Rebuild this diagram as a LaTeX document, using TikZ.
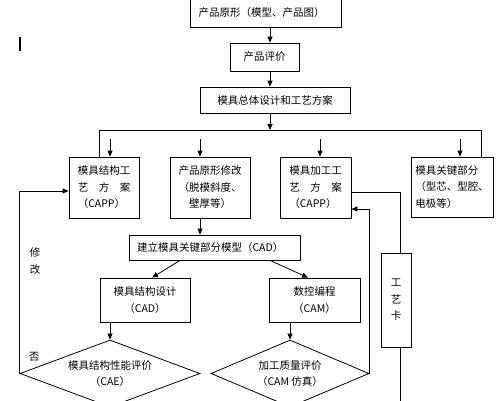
\documentclass[tikz,border=0pt]{standalone}
\usepackage{fontspec}
\newfontfamily\cjk{Noto Sans CJK SC}
\usepackage{tikz}
\usetikzlibrary{arrows.meta}
\usetikzlibrary{shapes.geometric}

\begin{document}
\begin{tikzpicture}[x=1pt,y=-1pt]
		\useasboundingbox (0,0) rectangle (501,400);
		\draw[line width=1.6pt] (20,37) -- (20,51);

		\begin{scope}[every node/.style={draw,rectangle,line width=0.8pt,inner sep=0pt,
		              font=\cjk\fontsize{10.5}{16.5}\selectfont}]
			\node[minimum width=151pt,minimum height=28pt,align=left,text width=134pt] (1) at (265.5,13) {产品原形（模型、产品图）};
			\node[minimum width=69pt,minimum height=28pt] (2) at (264.5,57) {产品评价};
			\node[minimum width=150pt,minimum height=26pt] (3) at (275,100) {模具总体设计和工艺方案};
			\node[minimum width=70pt,minimum height=61pt,align=left] (4) at (104,187.5) {模具结构工\\艺　方　案\\（CAPP）};
			\node[minimum width=80pt,minimum height=61pt,align=center] (5) at (210,187.5) {产品原形修改\\（脱模斜度、\\壁厚等）};
			\node[minimum width=71pt,minimum height=61pt,align=left] (6) at (315.5,187.5) {模具加工工\\艺　方　案\\（CAPP）};
			\node[minimum width=82pt,minimum height=60pt,align=left] (7) at (452,187) {模具关键部分\\（型芯、型腔、\\电极等）};
			\node[minimum width=171pt,minimum height=25pt,align=left,text width=155pt] (8) at (214.5,247.5) {建立模具关键部分模型（CAD）};
			\node[minimum width=90pt,minimum height=44pt,align=center] (9) at (145,300) {模具结构设计\\（CAD）};
			\node[minimum width=91pt,minimum height=44pt,align=center] (10) at (314.5,300) {数控编程\\（CAM）};
			\node[diamond,aspect=2.69,minimum width=180pt,minimum height=67pt,align=center] (11) at (110,373.5) {模具结构性能评价\\（CAE）};
			\node[diamond,aspect=2.36,minimum width=158pt,minimum height=67pt,align=center] (12) at (290,373.5) {加工质量评价\\（CAM 仿真）};
			\node[minimum width=30pt,minimum height=94pt,align=center] (13) at (396,300) {工\\艺\\卡};
			\node[draw=none,align=center] (14) at (35,261) {修\\改};
			\node[draw=none] (15) at (34,357) {否};
		\end{scope}

		\coordinate (spine) at (270,0);
		\coordinate (busL) at (99,130);
		\coordinate (busR) at (481,130);
		\coordinate (a4) at (110,139);
		\coordinate (a5) at (200,139);
		\coordinate (a6) at (320,139);
		\coordinate (a7) at (460,139);
		\coordinate (tail) at (400,410);

		\begin{scope}[>={Triangle[length=6pt,width=5pt]},line width=0.8pt,
		              every edge/.style={draw=black}]
			\path (1.south -| spine) edge[->] (2.north -| spine);
			\path (2.south -| spine) edge[->] (3.north -| spine);
			\path (3.south -| spine) edge[->] (spine |- busL);
			\draw (4.north -| busL) -- (busL) -- (busR) -- (7.north -| busR);
			\path (a4) edge[->] (4.north -| a4);
			\path (a5) edge[->] (5.north -| a5);
			\path (a6) edge[->] (6.north -| a6);
			\path (a7) edge[->] (7.north -| a7);
			\path ([xshift=-10pt]5.south) edge[->] ([xshift=-10pt]5.south |- 8.north);
			\path ([xshift=-34.5pt]8.south) edge[->] ([xshift=7pt]9.north);
			\path ([xshift=55.5pt]8.south) edge[->] ([xshift=-6.5pt]10.north);
			\path (9.south -| 11.north) edge[->] (11.north);
			\path (10.south -| 12.north) edge[->] (12.north);
			\draw[->] (11.west) |- ([yshift=-3.5pt]4.west);
			\draw[->] (12.east) |- ([yshift=-21.5pt]6.east);
			\draw ([yshift=-4.5pt]6.east) -| ([xshift=4pt]13.north);
			\draw ([xshift=4pt]13.south) -- (13.south -| tail) -- (tail);
		\end{scope}
\end{tikzpicture}
\end{document}
